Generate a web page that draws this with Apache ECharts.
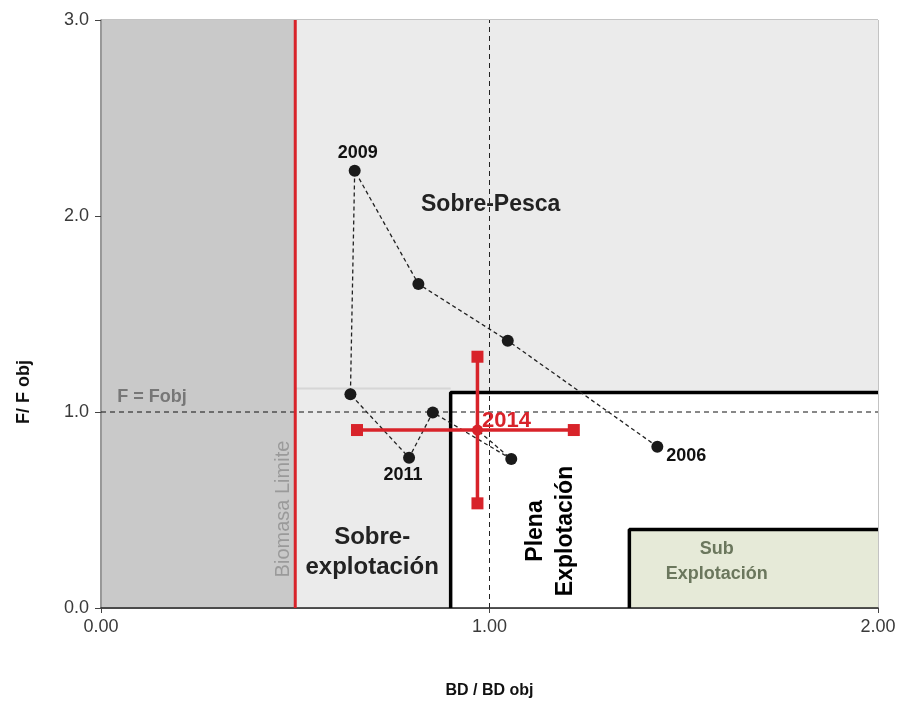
<!DOCTYPE html>
<html>
<head>
<meta charset="utf-8">
<script src="https://cdn.jsdelivr.net/npm/echarts@6/dist/echarts.min.js"></script>
<style>html,body{margin:0;padding:0;background:#fff}#c{width:900px;height:707px}</style>
</head>
<body>
<div id="c"></div>
<script>
// ---- data ----
const years = [2006, 2007, 2008, 2009, 2010, 2011, 2012, 2013, 2014];
const bdRatio = [1.432, 1.047, 0.817, 0.653, 0.642, 0.793, 0.854, 1.056, 0.969];
const fRatio  = [0.823, 1.364, 1.653, 2.231, 1.090, 0.767, 0.998, 0.760, 0.908];
const labeledYears = [2006, 2009, 2011];
const ci2014Bd = [0.659, 1.217];
const ci2014F = [0.534, 1.282];
const bLim = 0.5;
const fObj = 1.0;
const bObj = 1.0;
const plenaBox = [0.9, 0, 2.0, 1.1];
const subBox = [1.36, 0, 2.0, 0.4];
const xTicks = [0, 1, 2];
const yTicks = [0, 1, 2, 3];

const FONT = "'Liberation Sans', Arial, sans-serif";
const xMin = xTicks[0], xMax = xTicks[xTicks.length - 1];
const yMin = yTicks[0], yMax = yTicks[yTicks.length - 1];

const zones = [
  [xMin, yMin, bLim, yMax],
  [bLim, yMin, xMax, yMax],
  plenaBox,
  subBox
];
const zoneColors = ['#c9c9c9', '#ebebeb', '#ffffff', '#e6ead8'];

const last = years.length - 1;
const trajData = years.map((y, i) => {
  const item = { value: [bdRatio[i], fRatio[i]], name: String(y) };
  if (i === last) item.symbolSize = 0;
  if (labeledYears.includes(y)) {
    let lab = { show: true, formatter: String(y), fontFamily: FONT, fontWeight: 'bold', fontSize: 18, color: '#111' };
    if (y === 2006) Object.assign(lab, { position: 'right', distance: 3, offset: [0, 9] });
    if (y === 2009) Object.assign(lab, { position: 'top', distance: 3, offset: [3, 0] });
    if (y === 2011) Object.assign(lab, { position: 'bottom', distance: 2, offset: [-6, 0] });
    item.label = lab;
  }
  return item;
});

const textItems = [
  { value: [1.003, 2.056], label: { formatter: 'Sobre-Pesca', fontSize: 23, fontWeight: 'bold', color: '#222' } },
  { value: [0.698, 0.286], label: { formatter: 'Sobre-\nexplotación', fontSize: 24, fontWeight: 'bold', color: '#222', lineHeight: 30 } },
  { value: [1.157, 0.393], label: { formatter: 'Plena\nExplotación', fontSize: 23, fontWeight: 'bold', color: '#000', lineHeight: 30, rotate: 90 } },
  { value: [1.585, 0.235], label: { formatter: 'Sub\nExplotación', fontSize: 18, fontWeight: 'bold', color: '#6b775d', lineHeight: 25 } },
  { value: [0.469, 0.505], label: { formatter: 'Biomasa Limite', fontSize: 20, color: '#9a9a9a', rotate: 90 } },
  { value: [0.131, 1.077], label: { formatter: 'F = Fobj', fontSize: 18, fontWeight: 'bold', color: '#777777' } }
];

const chart = echarts.init(document.getElementById('c'), null, { renderer: 'canvas' });
const red = '#d8232a';
const option = {
  animation: false,
  backgroundColor: '#ffffff',
  grid: { left: 101, right: 22, top: 20, bottom: 99, show: true, borderColor: '#888', borderWidth: 1, backgroundColor: 'transparent' },
  xAxis: {
    type: 'value', min: xMin, max: xMax, interval: 1,
    name: 'BD / BD obj', nameLocation: 'middle', nameGap: 75,
    nameTextStyle: { fontFamily: FONT, fontWeight: 'bold', fontSize: 16, color: '#111' },
    axisLine: { show: true, onZero: false, lineStyle: { color: '#222', width: 1.5 } },
    axisTick: { show: true, inside: false, length: 5, lineStyle: { color: '#444' } },
    axisLabel: { fontFamily: FONT, fontSize: 18, color: '#3a3a3a', margin: 10, formatter: v => v.toFixed(2) },
    splitLine: { show: false }
  },
  yAxis: {
    type: 'value', min: yMin, max: yMax, interval: 1,
    axisLine: { show: true, onZero: false, lineStyle: { color: '#888', width: 1.5 } },
    axisTick: { show: true, length: 6, lineStyle: { color: '#444' } },
    axisLabel: { fontFamily: FONT, fontSize: 18, color: '#3a3a3a', margin: 12, formatter: v => v.toFixed(1) },
    splitLine: { show: false }
  },
  graphic: [
    { type: 'text', x: 24, y: 392, rotation: Math.PI / 2, style: { text: 'F/ F obj', fontFamily: FONT, fontWeight: 'bold', fontSize: 18, fill: '#111', align: 'center', verticalAlign: 'middle' } }
  ],
  series: [
    {
      type: 'custom', silent: true, z: 0,
      encode: { x: [0, 2], y: [1, 3] },
      data: zones,
      renderItem: (params, api) => {
        const p0 = api.coord([api.value(0), api.value(1)]);
        const p1 = api.coord([api.value(2), api.value(3)]);
        return { type: 'rect', shape: { x: p0[0], y: p1[1], width: p1[0] - p0[0], height: p0[1] - p1[1] }, style: { fill: zoneColors[params.dataIndex] } };
      }
    },
    { type: 'line', silent: true, z: 1, symbol: 'none', data: [[bLim, 1.12], [plenaBox[0], 1.12]], lineStyle: { color: '#d6d6d6', width: 2 } },
    { type: 'line', silent: true, z: 2, symbol: 'none', data: [[xMin, fObj], [xMax, fObj]], lineStyle: { color: '#111', width: 1, type: [5, 4] } },
    { type: 'line', silent: true, z: 2, symbol: 'none', data: [[bObj, yMin], [bObj, yMax]], lineStyle: { color: '#222', width: 1, type: [5, 4] } },
    { type: 'line', silent: true, z: 3, symbol: 'none', data: [[plenaBox[0], plenaBox[1]], [plenaBox[0], plenaBox[3]], [plenaBox[2], plenaBox[3]]], lineStyle: { color: '#000', width: 3.5 } },
    { type: 'line', silent: true, z: 3, symbol: 'none', data: [[subBox[0], subBox[1]], [subBox[0], subBox[3]], [subBox[2], subBox[3]]], lineStyle: { color: '#000', width: 3.5 } },
    { type: 'line', silent: true, z: 3, symbol: 'none', data: [[bLim, yMin], [bLim, yMax]], lineStyle: { color: red, width: 3 } },
    {
      type: 'line', z: 5, data: trajData, symbol: 'circle', symbolSize: 12,
      itemStyle: { color: '#1a1a1a', opacity: 1 },
      lineStyle: { color: '#222', width: 1.3, type: [4, 3] }
    },
    { type: 'line', z: 6, data: [[ci2014Bd[0], fRatio[last]], [ci2014Bd[1], fRatio[last]]], symbol: 'rect', symbolSize: 12, itemStyle: { color: red }, lineStyle: { color: red, width: 3.5 } },
    { type: 'line', z: 6, data: [[bdRatio[last], ci2014F[0]], [bdRatio[last], ci2014F[1]]], symbol: 'rect', symbolSize: 12, itemStyle: { color: red }, lineStyle: { color: red, width: 3.5 } },
    {
      type: 'scatter', z: 7, symbol: 'circle', symbolSize: 11, itemStyle: { color: red, opacity: 1 },
      data: [{ value: [bdRatio[last], fRatio[last]], label: { show: true, opacity: 1, formatter: String(years[last]), position: 'right', distance: -1, offset: [0, -9], fontFamily: FONT, fontWeight: 'bold', fontSize: 22, color: red } }]
    },
    {
      type: 'scatter', z: 8, silent: true, symbolSize: 1, itemStyle: { color: '#fff', opacity: 0 },
      label: { show: true, opacity: 1, position: 'inside', fontFamily: FONT, align: 'center', verticalAlign: 'middle' },
      data: textItems
    }
  ]
};
chart.setOption(option);
</script>
</body>
</html>
